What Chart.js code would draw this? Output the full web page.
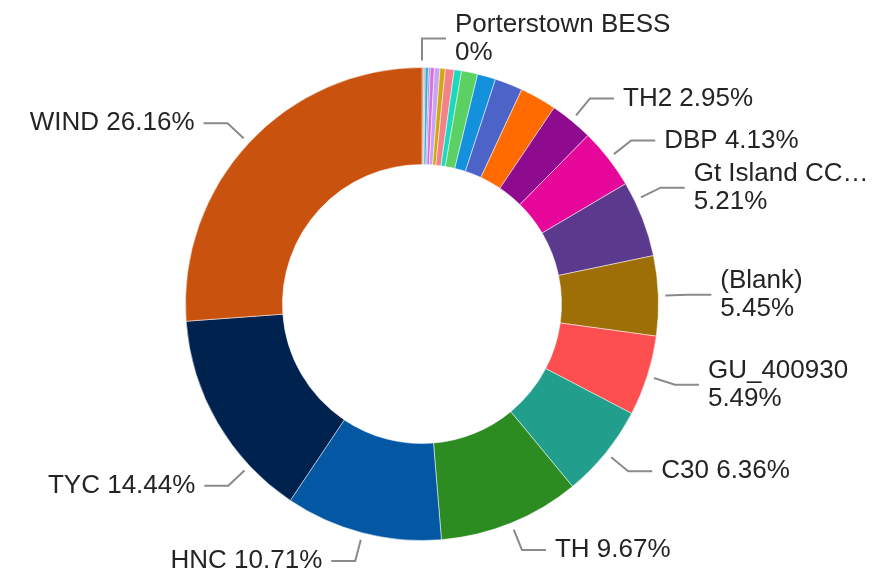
<!DOCTYPE html>
<html>
<head>
<meta charset="utf-8">
<script src="https://cdn.jsdelivr.net/npm/chart.js@4/dist/chart.umd.min.js"></script>
<style>
  html, body { margin: 0; padding: 0; background: #ffffff; }
  canvas { display: block; }
</style>
</head>
<body>
<canvas id="c" width="881" height="576"></canvas>
<script>
// Categories in clockwise order, starting at 12 o'clock
const categories = [
  'Porterstown BESS', 'Unit A', 'Unit B', 'Unit C', 'Unit D', 'Unit E', 'Unit F', 'Unit G',
  'Unit H', 'Unit I', 'Unit J', 'Unit K', 'Unit L', 'Unit M',
  'TH2', 'DBP', 'Gt Island CC…', '(Blank)', 'GU_400930', 'C30', 'TH', 'HNC', 'TYC', 'WIND'
];
// Share of total (%)
const shares = [
  0, 0.12, 0.10, 0.22, 0.12, 0.28, 0.38, 0.36,
  0.60, 0.50, 1.10, 1.25, 1.90, 2.50,
  2.95, 4.13, 5.21, 5.45, 5.49, 6.36, 9.67, 10.71, 14.44, 26.16
];
const sliceColours = [
  '#7F7F7F', '#9C6B4E', '#B4A3A3', '#3FA9E0', '#7D8FE0', '#DA6FDA', '#C5A3F5', '#D2A60F',
  '#F4808A', '#1CD8BD', '#5BD063', '#1391DD', '#4C63C8', '#FF6B00',
  '#8E0A8E', '#E6069A', '#5B3A8E', '#9E6F07', '#FD4F4F', '#219E8C', '#2C8C22', '#0458A3', '#00224F', '#C9520F'
];
const labelledCategories = [
  'Porterstown BESS', 'TH2', 'DBP', 'Gt Island CC…', '(Blank)', 'GU_400930', 'C30', 'TH', 'HNC', 'TYC', 'WIND'
];

const leaderPlugin = {
  id: 'leaders',
  afterDatasetsDraw(chart, args, opts) {
    const ctx = chart.ctx;
    const meta = chart.getDatasetMeta(0);
    const total = shares.reduce((a, b) => a + b, 0);
    ctx.save();
    ctx.font = opts.size + 'px ' + opts.family;
    meta.data.forEach((arc, i) => {
      const name = categories[i];
      if (!labelledCategories.includes(name)) return;
      const p = arc.getProps(['x', 'y', 'startAngle', 'endAngle', 'outerRadius'], true);
      const a = (p.startAngle + p.endAngle) / 2 + (opts.nudge[name] || 0) * Math.PI / 180;
      const c = Math.cos(a), s = Math.sin(a);
      const x0 = p.x + c * (p.outerRadius + opts.gapIn), y0 = p.y + s * (p.outerRadius + opts.gapIn);
      const x1 = p.x + c * (p.outerRadius + opts.elbow), y1 = p.y + s * (p.outerRadius + opts.elbow);
      const right = c > -1e-6;
      const dir = right ? 1 : -1;
      const x2 = x1 + dir * opts.hLen;
      ctx.strokeStyle = opts.lineColor;
      ctx.lineWidth = opts.lineWidth;
      ctx.beginPath();
      ctx.moveTo(x0, y0); ctx.lineTo(x1, y1); ctx.lineTo(x2, y1);
      ctx.stroke();
      const pct = shares[i] === 0 ? '0%' : (shares[i] / total * 100).toFixed(2) + '%';
      const tx = x2 + dir * opts.textGap;
      const full = name + ' ' + pct;
      const avail = right ? chart.width - tx - opts.margin : tx - opts.margin;
      const w = ctx.measureText(full).width;
      const lines = w > Math.min(avail, opts.maxWidth) ? [name, pct] : [full];
      ctx.fillStyle = opts.color;
      ctx.textAlign = right ? 'left' : 'right';
      ctx.textBaseline = 'middle';
      lines.forEach((t, k) => ctx.fillText(t, tx, y1 + (k - (lines.length - 1) / 2) * opts.lineHeight));
    });
    ctx.restore();
  }
};

new Chart(document.getElementById('c'), {
  type: 'doughnut',
  data: {
    labels: categories,
    datasets: [{
      data: shares,
      backgroundColor: sliceColours,
      borderColor: 'rgba(255,255,255,0.5)',
      borderWidth: 1
    }]
  },
  options: {
    responsive: false,
    animation: false,
    devicePixelRatio: 1,
    cutout: '59%',
    layout: { padding: { top: 67, bottom: 35, left: 185, right: 222 } },
    plugins: {
      legend: { display: false },
      tooltip: { enabled: false },
      leaders: {
        size: 26,
        family: '"Liberation Sans", Arial, sans-serif',
        color: '#252423',
        lineColor: '#8A8A8A',
        lineWidth: 2,
        gapIn: 7,
        elbow: 29,
        hLen: 24,
        textGap: 9,
        lineHeight: 28,
        margin: 8,
        maxWidth: 220,
        nudge: { 'Gt Island CC…': -4.8, 'TYC': -13 }
      }
    }
  },
  plugins: [leaderPlugin]
});
</script>
</body>
</html>
